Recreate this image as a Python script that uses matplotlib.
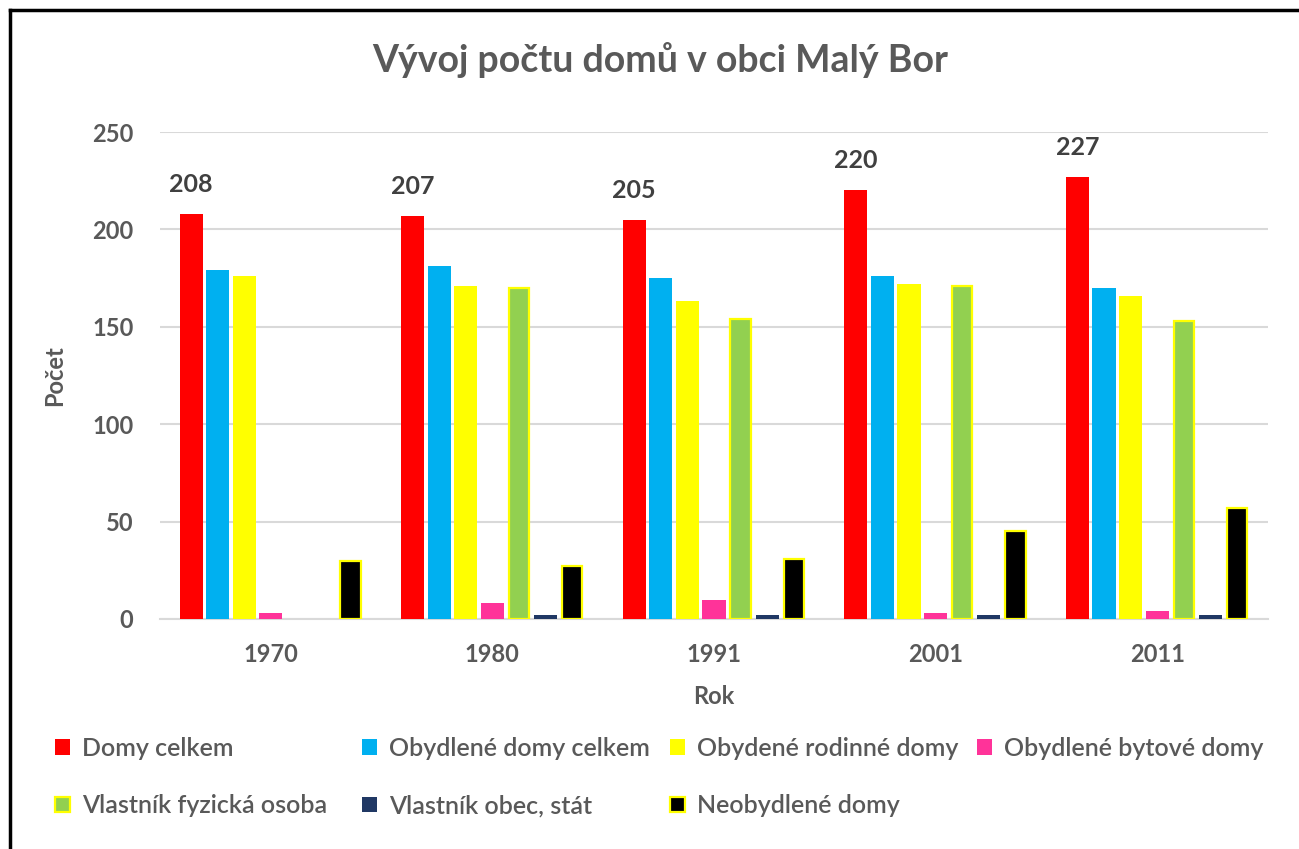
"""Vývoj počtu domů v obci Malý Bor - grouped bars, Excel style."""

import numpy as np
import matplotlib
matplotlib.use("Agg")
import matplotlib.pyplot as plt
from matplotlib.lines import Line2D

plt.rcParams["font.family"] = ["Lato", "DejaVu Sans"]

# ── Data ──────────────────────────────────────────────────
years = ["1970", "1980", "1991", "2001", "2011"]
domy_celkem = [208, 207, 205, 220, 227]
obydlene_celkem = [179, 181, 175, 176, 170]
obydlene_rodinne = [176, 171, 163, 172, 166]
obydlene_bytove = [3, 8, 10, 3, 4]
vlastnik_fyzicka = [np.nan, 170, 154, 171, 153]
vlastnik_obec = [np.nan, 2, 2, 2, 2]
neobydlene = [30, 27, 31, 45, 57]

series = [
    ("Domy celkem", domy_celkem, "#FF0000", None),
    ("Obydlené domy celkem", obydlene_celkem, "#00B0F0", None),
    ("Obydené rodinné domy", obydlene_rodinne, "#FFFF00", None),
    ("Obydlené bytové domy", obydlene_bytove, "#FF3399", None),
    ("Vlastník fyzická osoba", vlastnik_fyzicka, "#92D050", "#FFFF00"),
    ("Vlastník obec, stát", vlastnik_obec, "#203864", None),
    ("Neobydlené domy", neobydlene, "#000000", "#FFFF00"),
]

W, H = 1299, 849
GREY = "#595959"

fig = plt.figure(figsize=(W / 100, H / 100), dpi=100)
ax = fig.add_axes([160 / W, 1 - 619 / H, (1268 - 160) / W, (619 - 132) / H])

x = np.arange(len(years))
step, width = 0.12, 0.104
handles = []
for k, (name, vals, col, edge) in enumerate(series):
    offs = (k - 3) * step
    if edge:
        b = ax.bar(x + offs, vals, width - 0.012, color=col, edgecolor=edge,
                   linewidth=1.6, label=name, zorder=3)
    else:
        b = ax.bar(x + offs, vals, width, color=col, linewidth=0, label=name, zorder=3)
    handles.append(b)

# data labels on "Domy celkem"
for xi, v in zip(x, domy_celkem):
    ax.annotate(f"{v}", xy=(xi - 3 * step, v), xytext=(0, 13), textcoords="offset points",
                ha="center", va="bottom", fontsize=18, fontweight="bold", color="#404040")

ax.set_xlim(-0.5, len(years) - 0.5)
ax.set_ylim(0, 250)
ax.set_yticks(range(0, 251, 50))
ax.set_xticks(x)
ax.set_xticklabels(years)
ax.tick_params(length=0, labelsize=17, labelcolor=GREY)
ax.tick_params(axis="x", pad=17)
ax.tick_params(axis="y", pad=19)
for lab in ax.get_xticklabels() + ax.get_yticklabels():
    lab.set_fontweight("bold")
ax.grid(axis="y", color="#D9D9D9", linewidth=1.5, zorder=0)
for s in ["top", "right", "left"]:
    ax.spines[s].set_visible(False)
ax.spines["bottom"].set_color("#D9D9D9")
ax.spines["bottom"].set_linewidth(1.5)

ax.set_xlabel("Rok", fontsize=17, fontweight="bold", color=GREY, labelpad=14)
ax.set_ylabel("Počet", fontsize=17, fontweight="bold", color=GREY, labelpad=19)

fig.text(660 / W, 1 - 60 / H, "Vývoj počtu domů v obci Malý Bor", ha="center", va="center",
         fontsize=27, fontweight="bold", color=GREY)

# legend: 4 equal-width columns, two rows (Excel style)
col_x = [55, 362, 670, 977]
groups = [[0, 4], [1, 5], [2, 6], [3]]
for cx, g in zip(col_x, groups):
    leg = fig.legend([handles[i] for i in g], [series[i][0] for i in g],
                     loc="upper left", bbox_to_anchor=(cx / W, 1 - 737 / H),
                     frameon=False, borderpad=0, borderaxespad=0, handlelength=0.58,
                     handleheight=0.58, handletextpad=0.5, labelspacing=1.37,
                     prop={"size": 18, "weight": "semibold"})
    for t in leg.get_texts():
        t.set_color(GREY)

# black frame of the screenshot (left + top)
fig.add_artist(Line2D([10 / W, 10 / W], [0, 1 - 10 / H], color="black", linewidth=2.5,
                      transform=fig.transFigure))
fig.add_artist(Line2D([10 / W, 1], [1 - 10 / H, 1 - 10 / H], color="black", linewidth=2.5,
                      transform=fig.transFigure))

plt.savefig("out.png", dpi=100)
